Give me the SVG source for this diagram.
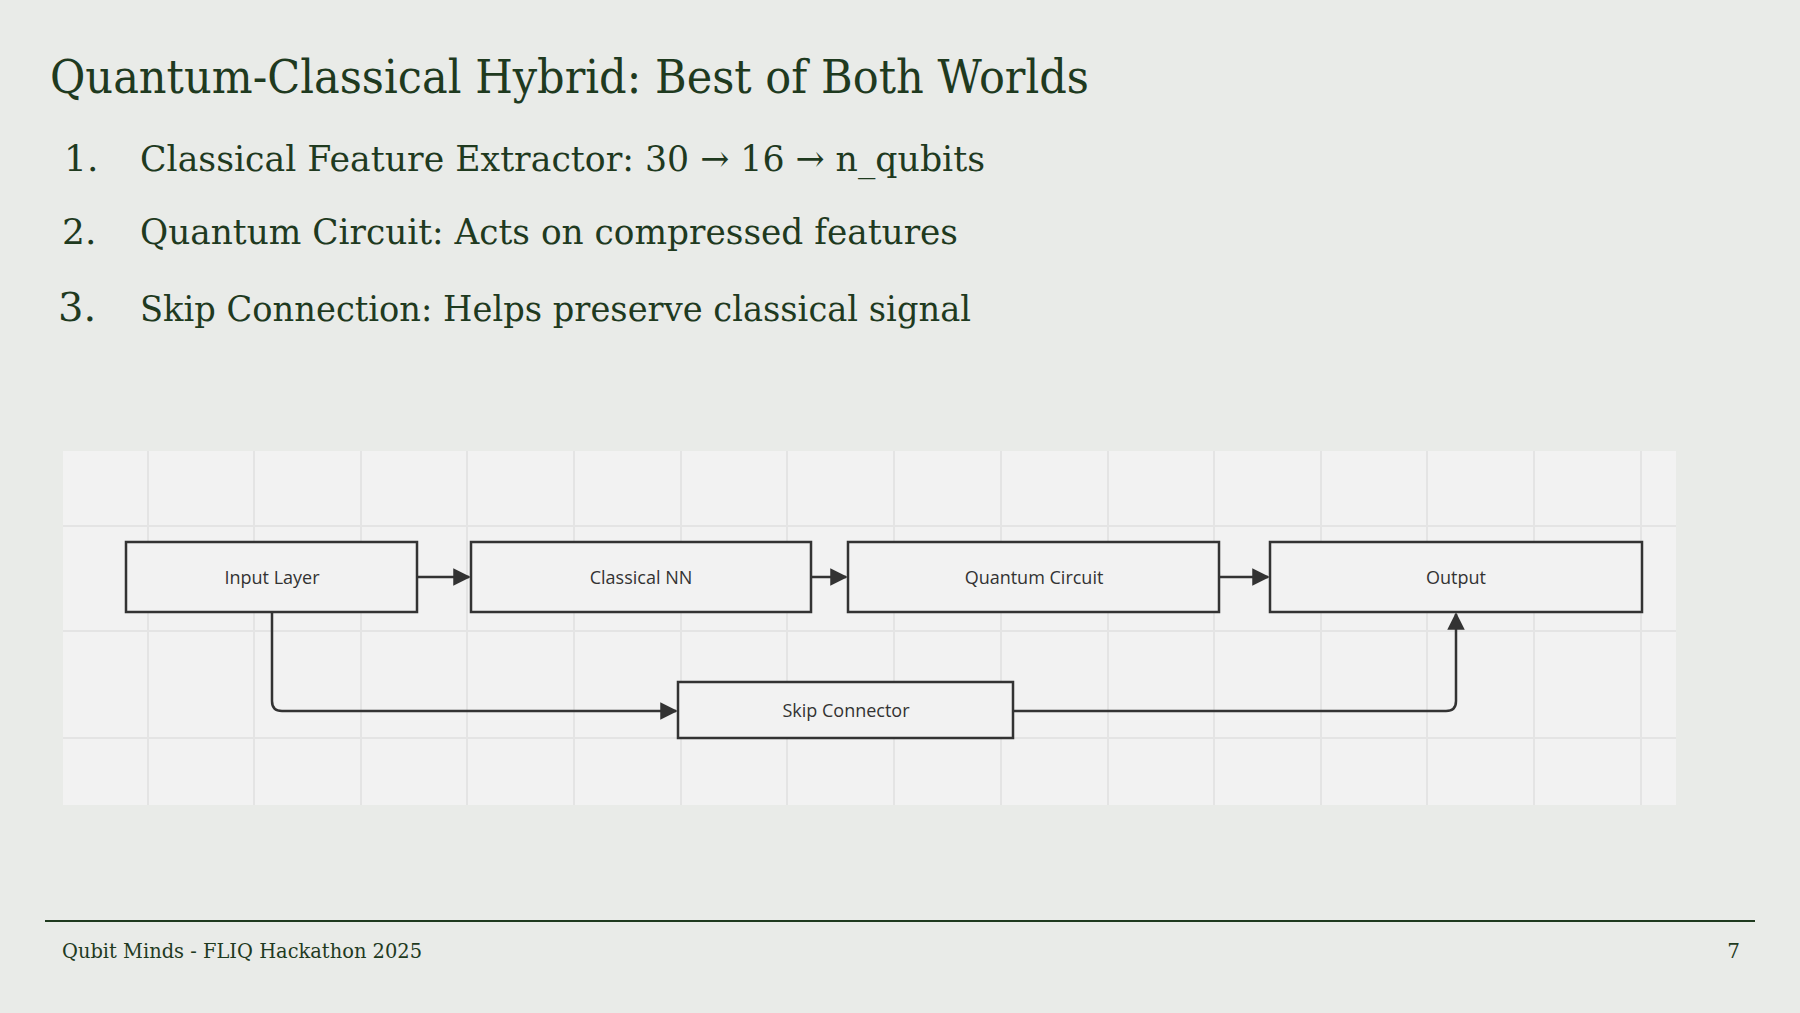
<svg xmlns="http://www.w3.org/2000/svg" width="1800" height="1013" viewBox="0 0 1800 1013">
<defs>
<style>
.t{font-family:"DejaVu Serif","Liberation Serif",serif;fill:#1f3a1f}
.n rect{fill:#f2f2f2;stroke:#333;stroke-width:2.5}
.n text{font-family:"Open Sans","Noto Sans",sans-serif;font-size:18px;fill:#333;text-anchor:middle}
.g{stroke:#e4e4e4;stroke-width:2}
.c{fill:none;stroke:#333;stroke-width:2.5}
</style>
<marker id="a" viewBox="0 0 10 10" refX="9" refY="5" markerWidth="7" markerHeight="7" orient="auto"><path d="M0,0L10,5L0,10z" fill="#333"/></marker>
</defs>
<rect width="1800" height="1013" fill="#e9ebe8"/>
<text class="t" x="50" y="93" font-size="46" textLength="1039" lengthAdjust="spacingAndGlyphs">Quantum-Classical Hybrid: Best of Both Worlds</text>
<g class="t" font-size="36">
<text x="64" y="171">1.</text><text x="140" y="171" textLength="845" lengthAdjust="spacingAndGlyphs">Classical Feature Extractor: 30 → 16 → n_qubits</text>
<text x="62" y="244">2.</text><text x="140" y="244" textLength="818" lengthAdjust="spacingAndGlyphs">Quantum Circuit: Acts on compressed features</text>
<text x="58" y="321" font-size="40">3.</text><text x="140" y="321" textLength="831" lengthAdjust="spacingAndGlyphs">Skip Connection: Helps preserve classical signal</text>
</g>
<rect x="63" y="451" width="1613" height="354" fill="#f2f2f2"/>
<g class="g">
<line x1="148" y1="451" x2="148" y2="805"/><line x1="254" y1="451" x2="254" y2="805"/><line x1="361" y1="451" x2="361" y2="805"/><line x1="467" y1="451" x2="467" y2="805"/><line x1="574" y1="451" x2="574" y2="805"/><line x1="681" y1="451" x2="681" y2="805"/><line x1="787" y1="451" x2="787" y2="805"/><line x1="894" y1="451" x2="894" y2="805"/><line x1="1001" y1="451" x2="1001" y2="805"/><line x1="1108" y1="451" x2="1108" y2="805"/><line x1="1214" y1="451" x2="1214" y2="805"/><line x1="1321" y1="451" x2="1321" y2="805"/><line x1="1427" y1="451" x2="1427" y2="805"/><line x1="1534" y1="451" x2="1534" y2="805"/><line x1="1641" y1="451" x2="1641" y2="805"/>
<line x1="63" y1="526" x2="1676" y2="526"/><line x1="63" y1="631" x2="1676" y2="631"/><line x1="63" y1="738" x2="1676" y2="738"/>
</g>
<g id="connectors" class="c" marker-end="url(#a)">
<line x1="417" y1="577" x2="469" y2="577"/>
<line x1="811" y1="577" x2="846" y2="577"/>
<line x1="1219" y1="577" x2="1268" y2="577"/>
<path d="M272 612V701q0 10 10 10H676"/>
<path d="M1013 711H1446q10 0 10-10V614"/>
</g>
<g id="input" class="n"><rect x="126" y="542" width="291" height="70"/><text x="272" y="584">Input Layer</text></g>
<g id="classical" class="n"><rect x="471" y="542" width="340" height="70"/><text x="641" y="584">Classical NN</text></g>
<g id="quantum" class="n"><rect x="848" y="542" width="371" height="70"/><text x="1034" y="584">Quantum Circuit</text></g>
<g id="output" class="n"><rect x="1270" y="542" width="372" height="70"/><text x="1456" y="584">Output</text></g>
<g id="skip" class="n"><rect x="678" y="682" width="335" height="56"/><text x="846" y="717">Skip Connector</text></g>
<line x1="45" y1="921" x2="1755" y2="921" stroke="#1f3a1f" stroke-width="2"/>
<text class="t" x="62" y="958" font-size="20" textLength="360" lengthAdjust="spacingAndGlyphs">Qubit Minds - FLIQ Hackathon 2025</text>
<text class="t" x="1740" y="958" font-size="20" text-anchor="end">7</text>
</svg>
